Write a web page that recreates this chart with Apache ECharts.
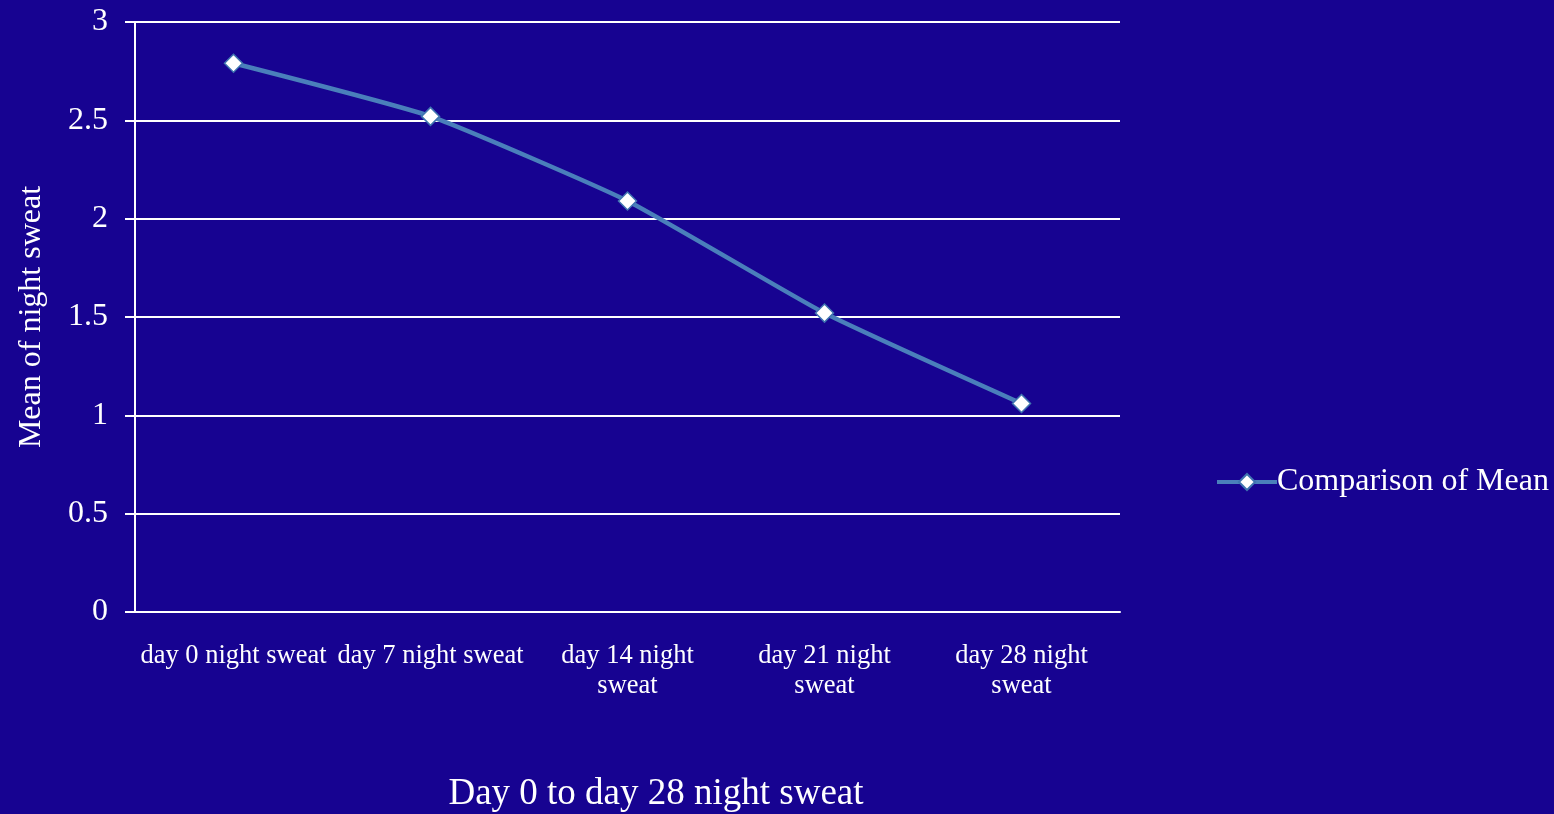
<!DOCTYPE html>
<html>
<head>
<meta charset="utf-8">
<script src="https://cdn.jsdelivr.net/npm/echarts@6/dist/echarts.min.js"></script>
<style>
html,body{margin:0;padding:0;background:#170391;}
#c{width:1554px;height:814px;}
</style>
</head>
<body>
<div id="c"></div>
<script>
const categories = ["day 0 night sweat", "day 7 night sweat", "day 14 night sweat", "day 21 night sweat", "day 28 night sweat"];
const meanValues = [2.79, 2.52, 2.09, 1.52, 1.06];
const seriesName = "Comparison of Mean";
const yTicks = [0, 0.5, 1, 1.5, 2, 2.5, 3];

const chart = echarts.init(document.getElementById('c'), null, {renderer: 'canvas'});
const font = '"Liberation Serif", "Times New Roman", serif';
chart.setOption({
  backgroundColor: '#170391',
  animation: false,
  textStyle: {fontFamily: font, color: '#fff'},
  title: {
    text: 'Day 0 to day 28 night sweat',
    left: 651, top: 771, textAlign: 'center',
    textStyle: {fontFamily: font, color: '#fff', fontSize: 37, fontWeight: 'normal'}
  },
  legend: {
    left: 1210, top: 461,
    itemWidth: 60, itemHeight: 20, itemGap: 0,
    lineStyle: {width: 4},
    textStyle: {fontFamily: font, color: '#fff', fontSize: 32, padding: [0, 0, 0, -5]},
    data: [seriesName]
  },
  grid: {left: 135, right: 434, top: 22, bottom: 202, containLabel: false},
  xAxis: {
    type: 'category',
    data: categories,
    boundaryGap: true,
    axisLine: {show: true, lineStyle: {color: '#fff', width: 2}},
    axisTick: {show: false},
    axisLabel: {
      color: '#fff', fontFamily: font, fontSize: 26.5, margin: 29, lineHeight: 30,
      interval: 0,
      formatter: v => v.length > 17 ? v.replace(/ (\S+)$/, '\n$1') : v
    }
  },
  yAxis: {
    type: 'value',
    min: 0, max: 3, interval: 0.5,
    name: 'Mean of night sweat',
    nameLocation: 'middle',
    nameGap: 87,
    nameTextStyle: {color: '#fff', fontFamily: font, fontSize: 32},
    axisLine: {show: true, lineStyle: {color: '#fff', width: 2}},
    axisTick: {show: true, length: 10, lineStyle: {color: '#fff', width: 2}},
    axisLabel: {color: '#fff', fontFamily: font, fontSize: 32, margin: 27,
      formatter: v => yTicks.includes(v) ? String(v) : ''},
    splitLine: {show: true, lineStyle: {color: '#fff', width: 2}}
  },
  series: [{
    name: seriesName,
    type: 'line',
    data: meanValues,
    smooth: 0.15,
    symbol: 'diamond',
    symbolSize: 18,
    lineStyle: {color: '#4a7fbb', width: 4.5},
    itemStyle: {color: '#ffffff', borderColor: '#3f74b0', borderWidth: 1.5}
  }]
});
</script>
</body>
</html>
